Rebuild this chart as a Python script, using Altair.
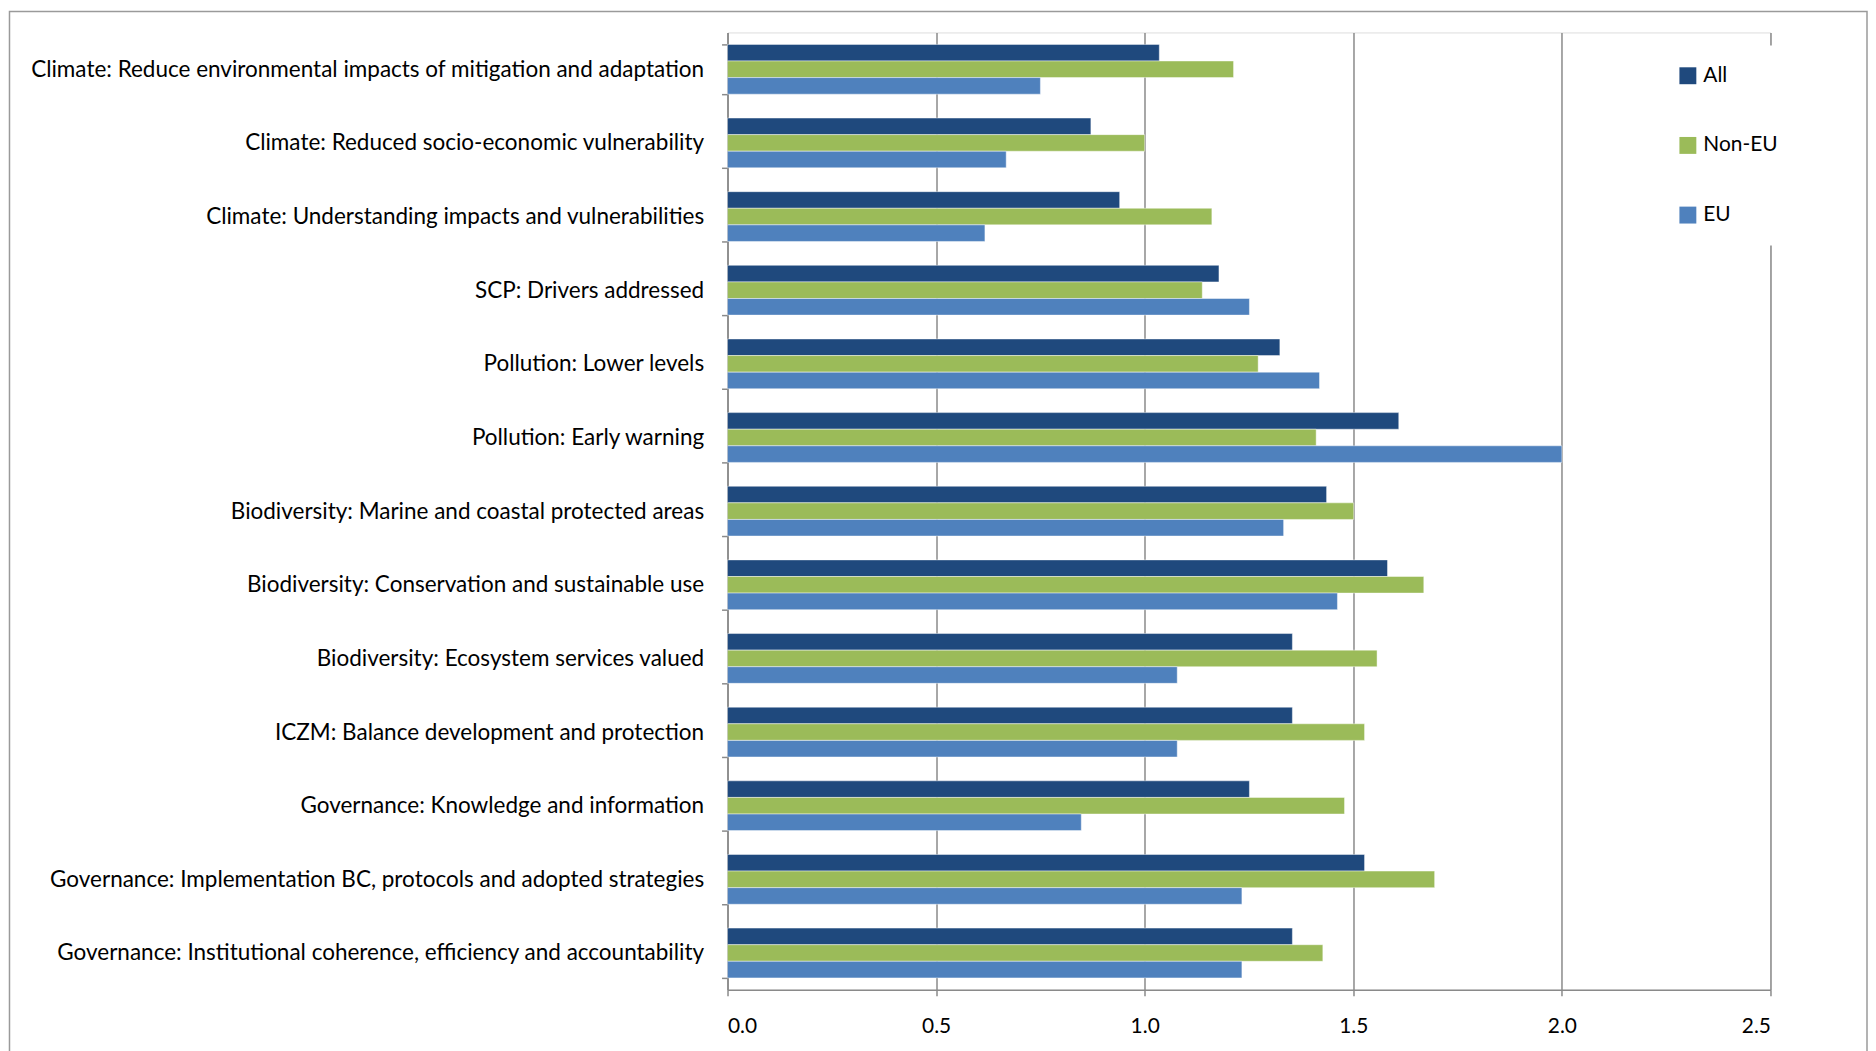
import altair as alt
import pandas as pd

categories = [
    "Climate: Reduce environmental impacts of mitigation and adaptation",
    "Climate: Reduced socio-economic vulnerability",
    "Climate: Understanding impacts and vulnerabilities",
    "SCP: Drivers addressed",
    "Pollution: Lower levels",
    "Pollution: Early warning",
    "Biodiversity: Marine and coastal protected areas",
    "Biodiversity: Conservation and sustainable use",
    "Biodiversity: Ecosystem services valued",
    "ICZM: Balance development and protection",
    "Governance: Knowledge and information",
    "Governance: Implementation BC, protocols and adopted strategies",
    "Governance: Institutional coherence, efficiency and accountability",
]
all_vals = [1.035, 0.871, 0.940, 1.178, 1.324, 1.609, 1.436, 1.582, 1.354, 1.354, 1.251, 1.527, 1.354]
noneu_vals = [1.213, 1.000, 1.161, 1.138, 1.272, 1.411, 1.501, 1.669, 1.557, 1.527, 1.479, 1.695, 1.427]
eu_vals = [0.750, 0.668, 0.617, 1.251, 1.419, 2.000, 1.333, 1.462, 1.078, 1.078, 0.848, 1.233, 1.233]
series = ["All", "Non-EU", "EU"]
colors = ["#1F497D", "#9BBB59", "#4F81BD"]
x_ticks = [0.0, 0.5, 1.0, 1.5, 2.0, 2.5]

rows = []
for i, c in enumerate(categories):
    for s, vals in zip(series, [all_vals, noneu_vals, eu_vals]):
        rows.append({"category": c, "series": s, "value": vals[i]})
df = pd.DataFrame(rows)

FONT = "Lato"
GRID = "#8a8a8a"

bars = alt.Chart(df).mark_bar(stroke="white", strokeOpacity=0.45, strokeWidth=1).encode(
    x=alt.X(
        "value:Q",
        scale=alt.Scale(domain=[0, 2.5], nice=False, zero=True),
        axis=alt.Axis(
            values=x_ticks, format=".1f", title=None, grid=True,
            gridColor=GRID, gridWidth=1.5, domainColor=GRID, domainWidth=1.5,
            tickColor=GRID, tickWidth=1.5, tickSize=6,
            labelFont=FONT, labelFontSize=21, labelColor="black", labelPadding=19.5,
        ),
    ),
    y=alt.Y(
        "category:N", sort=categories,
        scale=alt.Scale(paddingInner=0.324, paddingOuter=0.162),
        axis=alt.Axis(
            title=None, tickBand="extent", grid=False,
            domainColor=GRID, domainWidth=1.5, tickColor=GRID, tickWidth=1.5, tickSize=6,
            labelFont=FONT, labelFontSize=22.6, labelColor="black", labelPadding=18,
            labelLimit=900,
        ),
    ),
    yOffset=alt.YOffset("series:N", sort=series, scale=alt.Scale(paddingInner=0, paddingOuter=0)),
    color=alt.Color(
        "series:N", sort=series,
        scale=alt.Scale(domain=series, range=colors),
        legend=alt.Legend(
            title=None, orient="none", legendX=934.5, legendY=13,
            symbolType="square", symbolSize=289, symbolStrokeWidth=0,
            labelFont=FONT, labelFontSize=21, labelColor="black", labelOffset=5,
            rowPadding=48, padding=20, fillColor="white",
        ),
    ),
)

frame = alt.Chart(alt.Data(values=[{"k": 1}])).mark_rect(
    filled=False, stroke="#9a9a9a", strokeWidth=1.5
).encode(
    x=alt.value(-721.5), x2=alt.value(1145), y=alt.value(-21), y2=alt.value(1045)
)

chart = alt.layer(frame, bars).properties(
    width=1048, height=962, padding=0
).configure_view(stroke=None).configure(background="white")

chart.save("out.html", embed_options={"renderer": "svg", "actions": False})
